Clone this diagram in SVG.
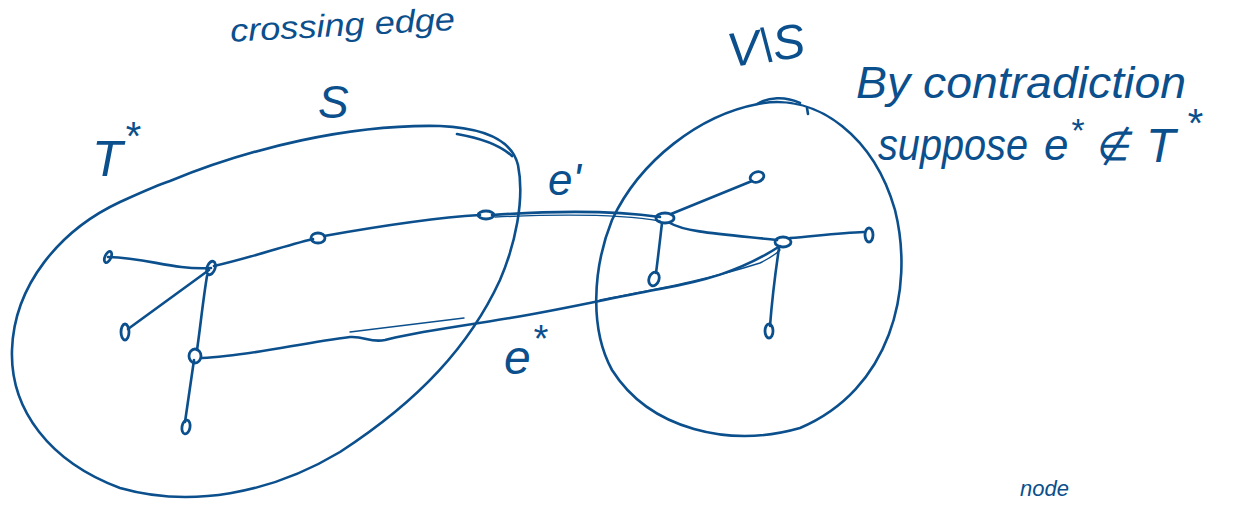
<svg xmlns="http://www.w3.org/2000/svg" width="1247" height="506" viewBox="0 0 1247 506">
<style>
.ln{fill:none;stroke:#0b4f8c;stroke-width:2.6;stroke-linecap:round;stroke-linejoin:round}
.thin{fill:none;stroke:#0b4f8c;stroke-width:1.4;stroke-linecap:round}
.nd{fill:none;stroke:#0b4f8c;stroke-width:2.8}
.tx{fill:#0b4f8c;font-family:"Liberation Sans",Arial,sans-serif;font-style:italic}
</style>
<rect width="1247" height="506" fill="#ffffff"/>
<g id="region-S">
<path class="ln" d="M170,181 C250,148 350,124 440,126 C485,128 512,140 518,165 C525,200 515,245 500,280 C470,345 420,400 340,452 C270,494 190,508 120,488 C50,462 10,410 12,350 C14,285 60,230 120,202 C140,193 155,186 170,181"/>
<path class="ln" d="M457,134 C480,138 500,145 512,156"/>
</g>
<g id="region-VS">
<path class="ln" d="M758,104 C820,92 875,140 895,210 C915,290 890,390 800,428 C730,448 650,430 612,370 C590,330 592,270 612,220 C640,160 700,115 758,104"/>
<path class="ln" d="M757,104 C768,97 785,96 800,103"/>
<path class="ln" d="M807,108 L808,114"/>
</g>
<g id="edges">
<path class="ln" d="M108,257 C150,258 170,270 211,268"/>
<path class="ln" d="M214,266 C250,258 280,247 313,239"/>
<path class="ln" d="M324,236 C380,226 430,218 480,215"/>
<path class="ln" d="M492,215 C550,211 610,210 660,217"/>
<path class="thin" d="M495,217 C560,214 620,214 660,221"/>
<path class="ln" d="M209,270 L128,329"/>
<path class="ln" d="M207,276 C203,300 200,330 197,350"/>
<path class="ln" d="M194,360 L185,422"/>
<path class="ln" d="M202,358 C250,356 300,343 350,337 C365,336 370,343 385,340 C410,333 450,328 510,318 C570,308 620,296 660,289 C700,282 740,272 780,246"/>
<path class="thin" d="M350,332 C400,326 440,321 464,318"/>
<path class="thin" d="M600,300 C650,290 700,282 760,263 C770,258 776,254 780,250"/>
<path class="ln" d="M671,214 L752,181"/>
<path class="ln" d="M662,223 C660,240 658,258 656,273"/>
<path class="ln" d="M670,223 C685,232 720,234 777,240"/>
<path class="ln" d="M790,238 C815,236 840,233 864,232"/>
<path class="ln" d="M779,248 C775,275 772,300 770,326"/>
</g>
<g id="nodes">
<ellipse id="n1" class="nd" cx="108" cy="257" rx="3" ry="6" transform="rotate(25 108 257)"/>
<ellipse id="n2" class="nd" cx="211" cy="268" rx="4" ry="7" transform="rotate(20 211 268)"/>
<ellipse id="n3" class="nd" cx="125" cy="332" rx="4" ry="8"/>
<ellipse id="n4" class="nd" cx="195" cy="356" rx="6" ry="7"/>
<ellipse id="n5" class="nd" cx="186" cy="427" rx="4" ry="7" transform="rotate(10 186 427)"/>
<ellipse id="n6" class="nd" cx="318" cy="238" rx="7" ry="5"/>
<ellipse id="n7" class="nd" cx="486" cy="215" rx="8" ry="4"/>
<ellipse id="n8" class="nd" cx="665" cy="218" rx="9" ry="5"/>
<ellipse id="n9" class="nd" cx="757" cy="177" rx="7" ry="5" transform="rotate(-20 757 177)"/>
<ellipse id="n10" class="nd" cx="654" cy="279" rx="5" ry="7" transform="rotate(20 654 279)"/>
<ellipse id="n11" class="nd" cx="783" cy="242" rx="8" ry="5"/>
<ellipse id="n12" class="nd" cx="869" cy="235" rx="4" ry="7"/>
<ellipse id="n13" class="nd" cx="769" cy="331" rx="4" ry="7"/>
</g>
<g id="labels">
<text class="tx" x="230" y="36" font-size="32" textLength="225" lengthAdjust="spacingAndGlyphs" transform="rotate(-3 340 25)">crossing edge</text>
<text class="tx" x="318" y="118" font-size="46">S</text>
<text class="tx" x="92" y="176" font-size="50">T</text>
<text class="tx" x="124" y="150" font-size="40">*</text>
<text class="tx" x="726" y="62" font-size="48" textLength="78" lengthAdjust="spacingAndGlyphs" transform="rotate(-8 765 40)">V\S</text>
<text class="tx" x="856" y="98" font-size="44" textLength="330" lengthAdjust="spacingAndGlyphs">By contradiction</text>
<text class="tx" x="878" y="160" font-size="44" textLength="150" lengthAdjust="spacingAndGlyphs">suppose</text>
<text class="tx" x="1044" y="160" font-size="44">e</text>
<text class="tx" x="1070" y="142" font-size="34">*</text>
<text class="tx" x="1094" y="160" font-size="40">∉</text>
<text class="tx" x="1146" y="162" font-size="48">T</text>
<text class="tx" x="1186" y="137" font-size="40">*</text>
<text class="tx" x="548" y="195" font-size="44">e'</text>
<text class="tx" x="504" y="374" font-size="48">e</text>
<text class="tx" x="532" y="352" font-size="38">*</text>
<text class="tx" x="1020" y="496" font-size="22">node</text>
</g>
</svg>
